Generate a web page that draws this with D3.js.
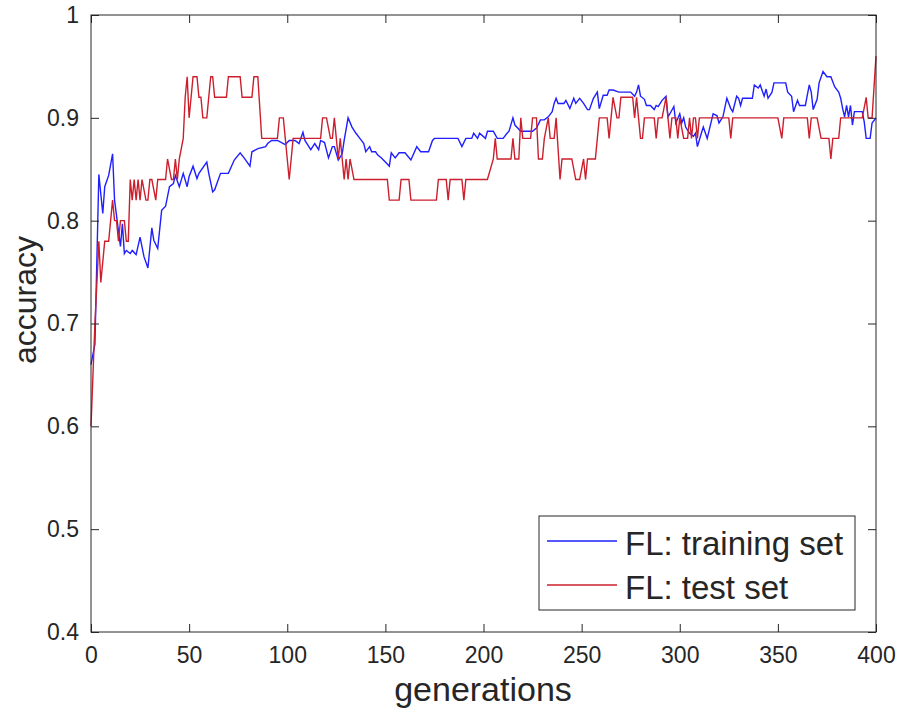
<!DOCTYPE html>
<html>
<head>
<meta charset="utf-8">
<script src="https://cdn.jsdelivr.net/npm/d3@7"></script>
<style>
  body { margin: 0; background: #fff; }
  svg text { font-family: "Liberation Sans", Arial, Helvetica, sans-serif; fill: #262626; }
</style>
</head>
<body>
<div id="vis"></div>
<script>
// [generation, accuracy]
var trainingSet = [
  [0,.66],[2,.68],[4,.845],[6,.807],[7,.833],[9,.844],[11,.865],[12,.82],[15,.775],[16,.797],
  [17,.768],[18,.771],[20,.768],[21,.771],[23,.767],[25,.784],[27,.765],[29,.754],[31,.793],[32,.781],
  [34,.773],[36,.81],[38,.814],[40,.833],[42,.836],[43,.844],[45,.833],[47,.846],[49,.833],[50,.843],
  [52,.853],[54,.841],[55,.846],[59,.857],[60,.846],[62,.828],[63,.83],[66,.846],[68,.846],[70,.846],
  [73,.859],[76,.866],[78,.861],[81,.853],[82,.867],[85,.87],[89,.872],[90,.875],[92,.878],[95,.878],
  [99,.874],[101,.878],[104,.878],[106,.875],[108,.886],[109,.878],[111,.872],[112,.869],[114,.875],[116,.869],
  [117,.878],[119,.876],[121,.861],[123,.872],[124,.872],[126,.859],[128,.865],[129,.878],[131,.90],[133,.891],
  [135,.885],[137,.88],[139,.875],[140,.867],[142,.872],[143,.867],[145,.867],[146,.864],[148,.861],[150,.857],
  [152,.853],[153,.866],[155,.861],[157,.866],[160,.866],[163,.859],[166,.872],[168,.867],[169,.867],[172,.867],
  [174,.878],[175,.88],[187,.88],[189,.872],[191,.88],[194,.88],[195,.885],[197,.88],[198,.885],[201,.88],
  [202,.887],[205,.887],[207,.88],[210,.88],[212,.885],[213,.887],[215,.90],[216,.893],[219,.887],[220,.887],
  [225,.887],[227,.89],[229,.898],[231,.898],[233,.901],[235,.906],[236,.914],[237,.919],[238,.914],[241,.914],
  [242,.917],[244,.909],[246,.919],[247,.914],[249,.919],[251,.914],[253,.908],[254,.908],[256,.919],[258,.925],
  [259,.909],[261,.922],[263,.922],[264,.927],[266,.927],[269,.925],[274,.925],[275,.925],[277,.921],[278,.925],
  [279,.932],[280,.921],[282,.918],[283,.912],[285,.912],[287,.908],[288,.912],[289,.911],[291,.917],[293,.921],
  [294,.901],[295,.904],[297,.911],[298,.895],[300,.904],[301,.895],[302,.90],[303,.891],[305,.885],[307,.882],
  [308,.885],[309,.872],[311,.885],[312,.891],[314,.88],[315,.888],[317,.904],[319,.902],[320,.895],[322,.901],
  [324,.919],[326,.909],[327,.906],[329,.921],[330,.919],[331,.912],[332,.919],[337,.919],[338,.932],[340,.929],
  [341,.932],[343,.921],[344,.928],[345,.919],[347,.925],[348,.934],[354,.934],[355,.925],[357,.921],[358,.906],
  [360,.917],[361,.912],[364,.912],[366,.932],[367,.925],[368,.908],[370,.918],[371,.934],[373,.945],[375,.94],
  [377,.94],[379,.93],[381,.925],[382,.919],[383,.909],[384,.901],[385,.912],[386,.901],[387,.912],[388,.893],
  [389,.906],[393,.906],[394,.896],[395,.88],[397,.88],[398,.895],[400,.90]
];

var testSet = [
  [0,.60],[2,.70],[4,.78],[5,.74],[7,.78],[9,.78],[10,.80],[11,.82],[12,.80],[13,.80],
  [14,.78],[15,.80],[17,.80],[18,.78],[19,.78],[20,.84],[21,.82],[22,.84],[23,.82],[24,.84],
  [25,.82],[26,.84],[28,.82],[29,.82],[30,.84],[31,.84],[33,.82],[34,.84],[37,.84],[38,.84],
  [39,.86],[41,.84],[42,.84],[43,.86],[44,.84],[45,.86],[47,.88],[48,.92],[49,.94],[50,.90],
  [52,.94],[54,.94],[55,.92],[56,.92],[57,.90],[59,.90],[61,.94],[62,.94],[63,.92],[69,.92],
  [70,.94],[76,.94],[77,.92],[82,.92],[83,.94],[85,.94],[87,.88],[95,.88],[96,.90],[98,.90],
  [99,.88],[100,.86],[101,.84],[103,.88],[117,.88],[118,.90],[120,.90],[122,.88],[123,.88],[124,.90],
  [126,.86],[127,.88],[128,.86],[129,.84],[130,.86],[131,.84],[132,.86],[134,.84],[151,.84],[152,.82],
  [157,.82],[158,.84],[162,.84],[163,.82],[176,.82],[177,.84],[181,.84],[182,.82],[183,.84],[189,.84],
  [190,.82],[191,.84],[202,.84],[205,.86],[206,.88],[207,.86],[214,.86],[215,.88],[216,.86],[218,.86],
  [219,.90],[220,.88],[224,.88],[225,.90],[227,.90],[228,.86],[230,.86],[231,.88],[233,.90],[234,.88],
  [236,.88],[237,.90],[239,.84],[240,.86],[242,.86],[245,.86],[247,.84],[249,.84],[251,.86],[252,.84],
  [253,.86],[257,.86],[259,.90],[263,.90],[264,.88],[265,.90],[266,.92],[268,.90],[269,.90],[270,.92],
  [276,.92],[277,.90],[278,.92],[279,.90],[280,.88],[281,.88],[282,.90],[287,.90],[288,.88],[289,.90],
  [291,.90],[293,.92],[295,.88],[296,.90],[298,.90],[299,.88],[300,.90],[302,.88],[304,.88],[305,.90],
  [306,.88],[307,.90],[308,.90],[309,.88],[310,.90],[325,.90],[326,.88],[327,.90],[350,.90],[352,.88],
  [353,.90],[365,.90],[366,.88],[367,.90],[370,.90],[372,.88],[376,.88],[377,.86],[378,.88],[381,.88],
  [382,.90],[393,.90],[395,.92],[396,.90],[398,.90],[400,.96]
];

var xTicks = [0, 50, 100, 150, 200, 250, 300, 350, 400];
var yTicks = [0.4, 0.5, 0.6, 0.7, 0.8, 0.9, 1];
var seriesNames = ['FL: training set', 'FL: test set'];
var seriesColors = ['#1f1fff', '#cc1f2d'];

var width = 898;
var height = 717;
var margin = { top: 15, right: 22, bottom: 85, left: 91 };
var plotW = width - margin.left - margin.right;
var plotH = height - margin.top - margin.bottom;
var axisColor = '#262626';

var svg = d3.select('#vis').append('svg')
  .attr('width', width)
  .attr('height', height);

var g = svg.append('g')
  .attr('transform', 'translate(' + margin.left + ',' + margin.top + ')');

var x = d3.scaleLinear().domain([0, 400]).range([0, plotW]);
var y = d3.scaleLinear().domain([0.4, 1]).range([plotH, 0]);

// white axes background
g.append('rect')
  .attr('width', plotW)
  .attr('height', plotH)
  .attr('fill', '#fff');

var line = d3.line()
  .x(function (d) { return x(d[0]); })
  .y(function (d) { return y(d[1]); });

g.append('path')
  .datum(trainingSet)
  .attr('fill', 'none')
  .attr('stroke', seriesColors[0])
  .attr('stroke-width', 1.4)
  .attr('d', line);

g.append('path')
  .datum(testSet)
  .attr('fill', 'none')
  .attr('stroke', seriesColors[1])
  .attr('stroke-width', 1.4)
  .attr('d', line);

// axes, MATLAB style: inward ticks on all four sides
function styleAxis(sel) {
  sel.select('.domain').remove();
  sel.selectAll('line').attr('stroke', axisColor).attr('stroke-width', 1);
  sel.selectAll('text').attr('fill', axisColor).style('font-size', '23px');
}

g.append('g')
  .attr('transform', 'translate(0,' + plotH + ')')
  .call(d3.axisBottom(x).tickValues(xTicks).tickSizeInner(-8).tickSizeOuter(0).tickPadding(15))
  .call(styleAxis);

g.append('g')
  .call(d3.axisTop(x).tickValues(xTicks).tickSizeInner(-8).tickSizeOuter(0).tickFormat(''))
  .call(styleAxis);

g.append('g')
  .call(d3.axisLeft(y).tickValues(yTicks).tickSizeInner(-8).tickSizeOuter(0).tickPadding(12)
    .tickFormat(function (d) { return d === 1 ? '1' : d3.format('.1f')(d); }))
  .call(styleAxis);

g.append('g')
  .attr('transform', 'translate(' + plotW + ',0)')
  .call(d3.axisRight(y).tickValues(yTicks).tickSizeInner(-8).tickSizeOuter(0).tickFormat(''))
  .call(styleAxis);

g.append('rect')
  .attr('width', plotW)
  .attr('height', plotH)
  .attr('fill', 'none')
  .attr('stroke', axisColor)
  .attr('stroke-width', 1);

// axis labels
svg.append('text')
  .attr('x', 483)
  .attr('y', 701)
  .attr('text-anchor', 'middle')
  .style('font-size', '34px')
  .text('generations');

svg.append('text')
  .attr('transform', 'translate(36,300) rotate(-90)')
  .attr('text-anchor', 'middle')
  .style('font-size', '32px')
  .text('accuracy');

// legend, lower right
var legend = g.append('g')
  .attr('transform', 'translate(' + (plotW - 337) + ',' + (plotH - 116) + ')');

legend.append('rect')
  .attr('width', 316)
  .attr('height', 94)
  .attr('fill', '#fff')
  .attr('stroke', axisColor)
  .attr('stroke-width', 1);

var items = legend.selectAll('.item')
  .data(seriesNames)
  .enter().append('g')
  .attr('class', 'item')
  .attr('transform', function (d, i) { return 'translate(0,' + (25 + i * 44) + ')'; });

items.append('line')
  .attr('x1', 8)
  .attr('x2', 78)
  .attr('stroke', function (d, i) { return seriesColors[i]; })
  .attr('stroke-width', 1.4);

items.append('text')
  .attr('x', 86)
  .attr('y', 14)
  .style('font-size', '33px')
  .text(function (d) { return d; });
</script>
</body>
</html>
